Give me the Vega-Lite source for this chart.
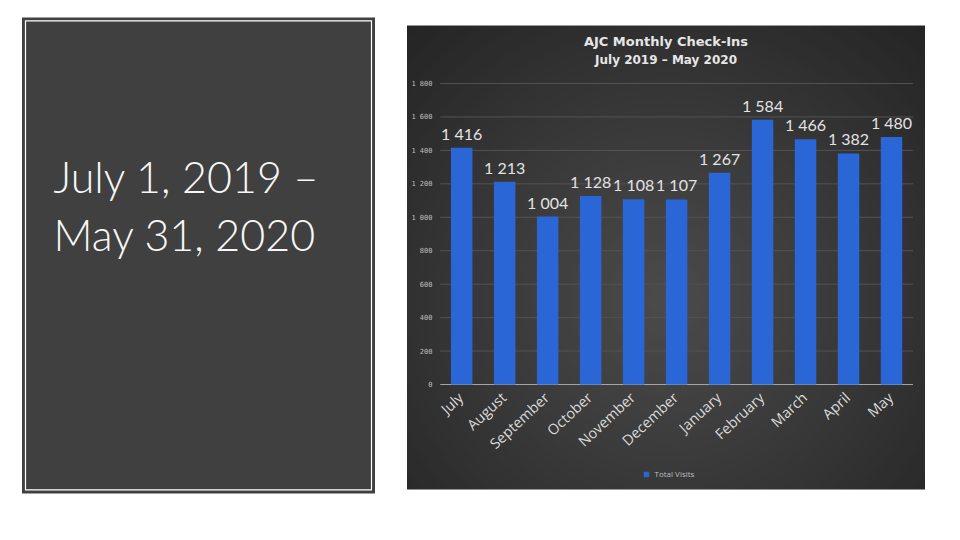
{
  "$schema": "https://vega.github.io/schema/vega-lite/v6.json",
  "background": "#ffffff",
  "padding": {"left": 20.5, "top": 16.5, "right": 0, "bottom": 0},
  "config": {
    "locale": {
      "number": {"decimal": ".", "thousands": " ", "grouping": [3], "currency": ["$", ""]}
    }
  },
  "datasets": {
    "visits": [
      {"month": "July", "visits": 1416},
      {"month": "August", "visits": 1213},
      {"month": "September", "visits": 1004},
      {"month": "October", "visits": 1128},
      {"month": "November", "visits": 1108},
      {"month": "December", "visits": 1107},
      {"month": "January", "visits": 1267},
      {"month": "February", "visits": 1584},
      {"month": "March", "visits": 1466},
      {"month": "April", "visits": 1382},
      {"month": "May", "visits": 1480}
    ],
    "grid": [
      {"v": 0}, {"v": 200}, {"v": 400}, {"v": 600}, {"v": 800},
      {"v": 1000}, {"v": 1200}, {"v": 1400}, {"v": 1600}, {"v": 1800}
    ]
  },
  "spacing": 30.5,
  "center": true,
  "hconcat": [
    {
      "width": 346,
      "height": 469,
      "view": {"fill": "#404040", "stroke": "#404040", "strokeWidth": 7},
      "data": {"values": [{"caption": "July 1, 2019 –\nMay 31, 2020"}]},
      "layer": [
        {
          "mark": {"type": "rect", "filled": false, "color": "#ffffff", "strokeWidth": 1.2},
          "encoding": {}
        },
        {
          "mark": {
            "type": "text",
            "align": "left",
            "baseline": "alphabetic",
            "dx": -145,
            "dy": -62,
            "lineBreak": "\n",
            "lineHeight": 58,
            "font": "Lato",
            "fontWeight": 300,
            "fontSize": 43,
            "color": "#f7f7f7"
          },
          "encoding": {"text": {"field": "caption"}}
        }
      ]
    },
    {
      "width": 518,
      "height": 464,
      "view": {"stroke": null},
      "title": {
        "text": "AJC Monthly Check-Ins",
        "subtitle": "July 2019 – May 2020",
        "anchor": "middle",
        "offset": -40,
        "color": "#e6e6e6",
        "subtitleColor": "#e6e6e6",
        "font": "DejaVu Sans",
        "fontSize": 13,
        "fontWeight": "bold",
        "subtitleFont": "DejaVu Sans",
        "subtitleFontSize": 12,
        "subtitleFontWeight": "bold",
        "subtitlePadding": 6,
        "zindex": 1
      },
      "layer": [
        {
          "data": {"values": [{"panel": "chart"}]},
          "mark": {
            "type": "rect",
            "fill": {
              "gradient": "radial",
              "x1": 0.5, "y1": 0.58, "r1": 0,
              "x2": 0.5, "y2": 0.58, "r2": 0.75,
              "stops": [
                {"offset": 0, "color": "#4b4b4b"},
                {"offset": 1, "color": "#232323"}
              ]
            }
          },
          "encoding": {}
        },
        {
          "data": {"name": "grid"},
          "mark": {"type": "rule", "strokeWidth": 1},
          "encoding": {
            "y": {"field": "v", "type": "quantitative"},
            "x": {"datum": "July", "type": "nominal", "bandPosition": -0.5},
            "x2": {"datum": "May", "bandPosition": 1.5},
            "color": {
              "condition": {"test": "datum.v === 0", "value": "#a6a6a6"},
              "value": "#535353"
            }
          }
        },
        {
          "data": {"name": "visits"},
          "mark": {"type": "bar"},
          "encoding": {
            "x": {
              "field": "month",
              "type": "nominal",
              "sort": null,
              "scale": {
                "domain": ["July", "August", "September", "October", "November", "December", "January", "February", "March", "April", "May"],
                "paddingInner": 0.5,
                "paddingOuter": 0.776,
                "align": 0.659
              },
              "axis": {
                "orient": "bottom",
                "offset": -105,
                "zindex": 1,
                "labelAngle": -43,
                "labelAlign": "right",
                "labelBaseline": "middle",
                "labelPadding": 11,
                "domain": false,
                "ticks": false,
                "title": null,
                "labelFont": "Open Sans",
                "labelFontSize": 14.5,
                "labelColor": "#d9d9d9"
              }
            },
            "y": {
              "field": "visits",
              "type": "quantitative",
              "scale": {"domain": [-628, 2147], "nice": false, "zero": false},
              "axis": {
                "orient": "left",
                "offset": -27,
                "zindex": 1,
                "values": [0, 200, 400, 600, 800, 1000, 1200, 1400, 1600, 1800],
                "labelExpr": "format(datum.value, ',d')",
                "domain": false,
                "ticks": false,
                "grid": false,
                "title": null,
                "labelPadding": 2,
                "labelFont": "DejaVu Sans Mono",
                "labelFontSize": 7,
                "labelColor": "#bfbfbf"
              }
            },
            "color": {
              "datum": "Total Visits",
              "scale": {"range": ["#2a66d6"]},
              "legend": {
                "orient": "none",
                "legendX": 617,
                "legendY": 450,
                "title": null,
                "symbolType": "square",
                "symbolSize": 30,
                "labelFont": "Open Sans",
                "labelFontSize": 8,
                "labelColor": "#bfbfbf"
              }
            }
          }
        },
        {
          "data": {"name": "visits"},
          "mark": {
            "type": "text",
            "baseline": "alphabetic",
            "dy": -8,
            "font": "Lato",
            "fontSize": 16,
            "color": "#e3e3e3"
          },
          "encoding": {
            "x": {"field": "month", "type": "nominal", "sort": null},
            "y": {"field": "visits", "type": "quantitative"},
            "text": {"field": "visits", "type": "quantitative", "format": ","}
          }
        }
      ]
    }
  ]
}
